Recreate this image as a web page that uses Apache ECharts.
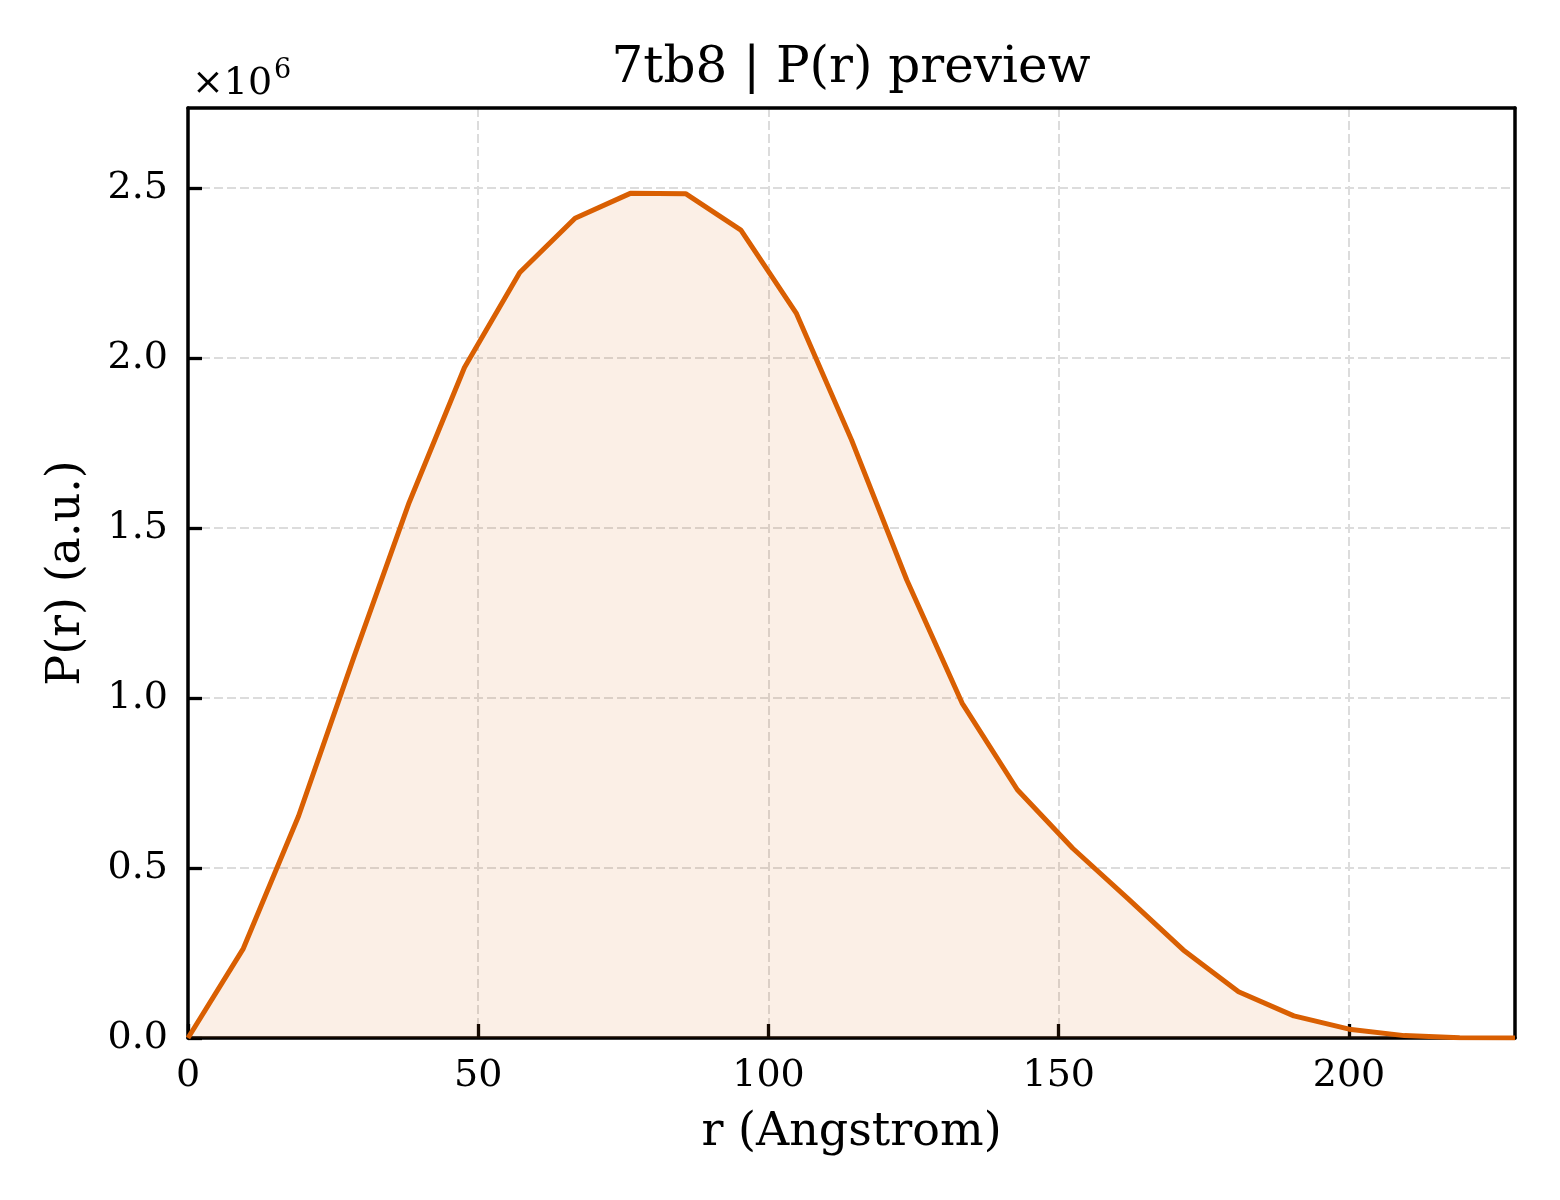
<!DOCTYPE html>
<html>
<head>
<meta charset="utf-8">
<title>7tb8 | P(r) preview</title>
<script src="https://cdn.jsdelivr.net/npm/echarts@6/dist/echarts.min.js"></script>
<style>
    html, body { margin: 0; padding: 0; background: #fff; }
    #main { width: 1560px; height: 1200px; }
</style>
</head>
<body>
<div id="main"></div>
<script>
// r in Angstrom
var rValues = [0, 9.525, 19.05, 28.575, 38.1, 47.625, 57.15, 66.675, 76.2, 85.725,
    95.25, 104.775, 114.3, 123.825, 133.35, 142.875, 152.4, 161.925, 171.45, 180.975,
    190.5, 200.025, 209.55, 219.075, 228.6];
// P(r), a.u.
var prValues = [0, 263000, 653000, 1120000, 1575000, 1972000, 2251000, 2411000, 2484000, 2483000,
    2376000, 2132000, 1759000, 1347000, 985000, 730000, 558000, 410000, 259000, 136000,
    65000, 26000, 7000, 1000, 0];
var xTicks = [0, 50, 100, 150, 200];
var yTicks = [0, 0.5, 1.0, 1.5, 2.0, 2.5];

var FONT = "'DejaVu Serif', 'Liberation Serif', serif";
var lineColor = '#D95F02';

var points = [];
for (var i = 0; i < rValues.length; i++) {
    points.push([rValues[i], prValues[i]]);
}

var gridLine = { show: true, lineStyle: { color: '#dcdcdc', width: 2, type: [9, 4] } };
var frame = { show: true, onZero: false, lineStyle: { color: '#000', width: 3.5 } };

var myChart = echarts.init(document.getElementById('main'));
myChart.setOption({
    backgroundColor: '#fff',
    animation: false,
    grid: { left: 188, right: 45, top: 108, bottom: 162 },
    graphic: [
        { type: 'text', style: { x: 851, y: 69, text: '7tb8 | P(r) preview', font: '50px ' + FONT, fill: '#000', align: 'center', verticalAlign: 'middle' } },
        // offset text ×10^6
        { type: 'text', style: { x: 192, y: 84, text: '×10', font: '38px ' + FONT, fill: '#000', align: 'left', verticalAlign: 'middle' } },
        { type: 'text', style: { x: 274, y: 71, text: '6', font: '27px ' + FONT, fill: '#000', align: 'left', verticalAlign: 'middle' } }
    ],
    xAxis: [{
        type: 'value',
        min: 0,
        max: 228.6,
        interval: 50,
        name: 'r (Angstrom)',
        nameLocation: 'middle',
        nameGap: 72,
        nameTextStyle: { fontFamily: FONT, fontSize: 46, color: '#000' },
        axisLine: frame,
        axisTick: { show: true, inside: true, length: 14, lineStyle: { color: '#000', width: 3.3 } },
        axisLabel: {
            fontFamily: FONT, fontSize: 38, color: '#000', margin: 19,
            showMaxLabel: false,
            formatter: function (v) { return xTicks.indexOf(v) >= 0 ? String(v) : ''; }
        },
        splitLine: gridLine
    }, {
        type: 'value', position: 'top', min: 0, max: 228.6,
        axisLine: frame, axisTick: { show: false }, axisLabel: { show: false }, splitLine: { show: false }
    }],
    yAxis: [{
        type: 'value',
        min: 0,
        max: 2735000,
        interval: 500000,
        name: 'P(r) (a.u.)',
        nameLocation: 'middle',
        nameGap: 98,
        nameTextStyle: { fontFamily: FONT, fontSize: 46, color: '#000' },
        axisLine: frame,
        axisTick: { show: true, inside: true, length: 14, lineStyle: { color: '#000', width: 3.3 } },
        axisLabel: {
            fontFamily: FONT, fontSize: 38, color: '#000', margin: 20,
            showMaxLabel: false,
            formatter: function (v) {
                var t = v / 1e6;
                return yTicks.indexOf(t) >= 0 ? t.toFixed(1) : '';
            }
        },
        splitLine: gridLine
    }, {
        type: 'value', position: 'right', min: 0, max: 2735000,
        axisLine: frame, axisTick: { show: false }, axisLabel: { show: false }, splitLine: { show: false }
    }],
    series: [{
        type: 'line',
        data: points,
        showSymbol: false,
        lineStyle: { color: lineColor, width: 5 },
        areaStyle: { color: 'rgba(217,95,2,0.14)', origin: 'start' },
        z: 3
    }]
});
</script>
</body>
</html>
